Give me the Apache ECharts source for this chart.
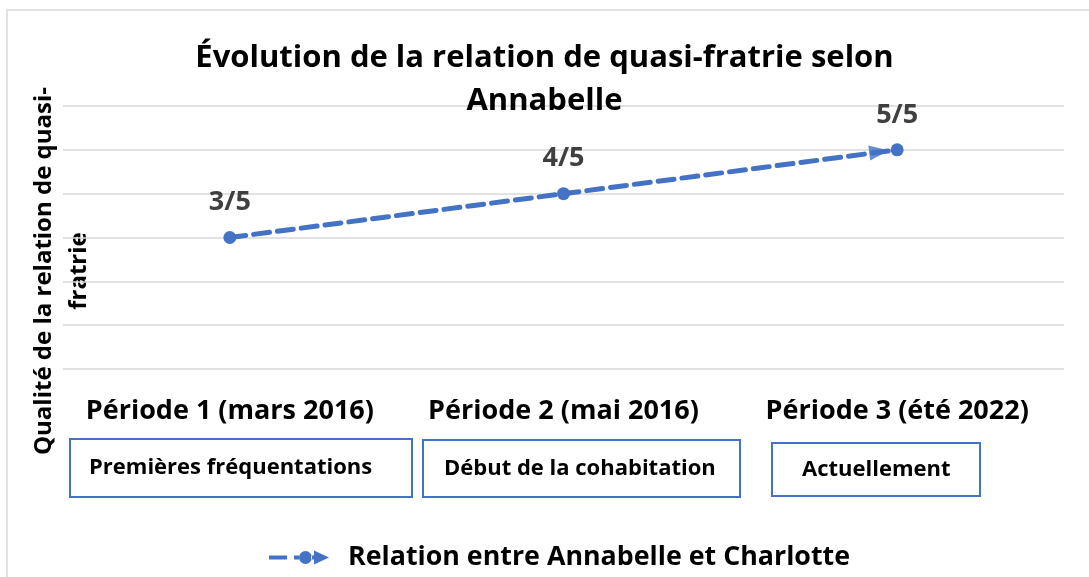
<!DOCTYPE html>
<html>
<head>
<meta charset="utf-8">
<script src="https://cdn.jsdelivr.net/npm/echarts@6/dist/echarts.min.js"></script>
<style>
  html, body { margin: 0; padding: 0; background: #fff; }
  #chart { width: 1089px; height: 577px; }
</style>
</head>
<body>
<div id="chart"></div>
<script>
// données du graphique
const periodes = ['Période 1 (mars 2016)', 'Période 2 (mai 2016)', 'Période 3 (été 2022)'];
const notes = [3, 4, 5];
const phases = ['Premières fréquentations', 'Début de la cohabitation', 'Actuellement'];
const nomSerie = 'Relation entre Annabelle et Charlotte';
const titre = 'Évolution de la relation de quasi-fratrie selon\nAnnabelle';
const titreAxeY = 'Qualité de la relation de quasi-\nfratrie';

const bleu = '#4472C4';
const police = '"Open Sans", "Noto Sans", sans-serif';

var myChart = echarts.init(document.getElementById('chart'));

// cadres sous les périodes
const cadres = [
    { x: 70, y: 439, w: 342, h: 58, tx: 89 },
    { x: 423, y: 440, w: 317, h: 57, tx: 444 },
    { x: 772, y: 443, w: 208, h: 53, tx: 802 }
];
const graphics = [
    {
        type: 'rect', silent: true, z: -1,
        shape: { x: 7, y: 10, width: 1100, height: 600 },
        style: { fill: 'none', stroke: '#d9d9d9', lineWidth: 1.5 }
    },
    {
        type: 'text', x: 62, y: 271, rotation: Math.PI / 2,
        style: {
            text: titreAxeY, font: 'bold 24px ' + police, fill: '#000',
            align: 'center', verticalAlign: 'middle', lineHeight: 35
        }
    }
];
phases.forEach(function (p, i) {
    const c = cadres[i];
    graphics.push({
        type: 'rect',
        shape: { x: c.x, y: c.y, width: c.w, height: c.h },
        style: { fill: '#fff', stroke: bleu, lineWidth: 2 }
    });
    graphics.push({
        type: 'text', x: c.tx, y: c.y + c.h / 2,
        style: { text: p, font: 'bold 22px ' + police, fill: '#000', verticalAlign: 'middle' }
    });
});

var option = {
    textStyle: { fontFamily: police },
    title: {
        text: titre,
        left: 'center',
        top: 32,
        textStyle: { fontSize: 31, fontWeight: 'bold', color: '#000', lineHeight: 43, fontFamily: police }
    },
    legend: {
        bottom: 1,
        left: 264,
        data: [{
            name: nomSerie,
            icon: 'path://M0 5 L18 5 L18 9 L0 9 Z M25 5 L30 5 L30 9 L25 9 Z M30 7 A6.5 6.5 0 1 0 43 7 A6.5 6.5 0 1 0 30 7 Z M42 5 L46 5 L46 9 L42 9 Z M45 0 L60 7 L45 14 Z'
        }],
        itemWidth: 60,
        itemHeight: 15,
        itemGap: 10,
        itemStyle: { color: bleu },
        textStyle: { fontSize: 26.8, fontWeight: 'bold', color: '#000', fontFamily: police, padding: [0, 0, 0, 14] }
    },
    grid: { left: 63, right: 25, top: 106, bottom: 208 },
    xAxis: {
        type: 'category',
        data: periodes,
        boundaryGap: true,
        axisLine: { show: false },
        axisTick: { show: false },
        axisLabel: {
            interval: 0, hideOverlap: false, margin: 29,
            fontSize: 27, fontWeight: 'bold', color: '#000', fontFamily: police
        }
    },
    yAxis: {
        type: 'value',
        min: 0,
        max: 6,
        interval: 1,
        axisLabel: { show: false },
        axisLine: { show: false },
        axisTick: { show: false },
        splitLine: { lineStyle: { color: '#d9d9d9', width: 1.5 } }
    },
    series: [
        {
            name: nomSerie,
            type: 'line',
            data: notes,
            symbol: 'circle',
            symbolSize: 13,
            itemStyle: { color: bleu },
            lineStyle: { color: bleu, width: 5, type: [16, 8], cap: 'round' },
            label: {
                show: true,
                position: 'top',
                distance: 15,
                formatter: '{c}/5',
                fontSize: 27,
                fontWeight: 'bold',
                color: '#404040',
                fontFamily: police
            }
        },
        {
            // flèche en bout de ligne
            type: 'scatter',
            silent: true,
            data: [[notes.length - 1, notes[notes.length - 1]]],
            symbol: 'triangle',
            symbolSize: [15, 20],
            symbolRotate: -83,
            symbolOffset: [-18, 2],
            itemStyle: { color: bleu },
            z: 3
        }
    ],
    graphic: graphics
};

option && myChart.setOption(option);
</script>
</body>
</html>
